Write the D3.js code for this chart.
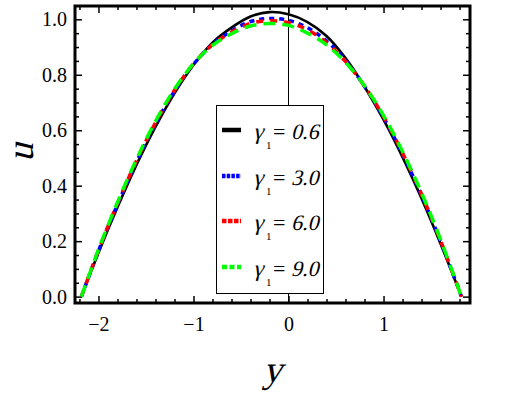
<!DOCTYPE html>
<html>
<head>
<meta charset="utf-8">
<script src="https://cdn.jsdelivr.net/npm/d3@7"></script>
<style>
  html, body { margin: 0; padding: 0; background: #fff; }
  svg { display: block; }
</style>
</head>
<body>
<svg id="chart" width="525" height="398"></svg>
<script>
  // values (u against y)
  var yPts = [-2.18, -2.0, -1.8, -1.6, -1.4, -1.2, -1.0, -0.8, -0.6, -0.4, -0.2, 0.0, 0.2, 0.4, 0.6, 0.8, 1.0, 1.2, 1.4, 1.6, 1.82];
  var uG06 = [0, 0.158, 0.322, 0.475, 0.612, 0.733, 0.835, 0.916, 0.970, 1.010, 1.026, 1.018, 0.990, 0.940, 0.860, 0.757, 0.638, 0.503, 0.354, 0.191, 0];
  var uG30 = [0, 0.165, 0.332, 0.486, 0.623, 0.741, 0.838, 0.910, 0.958, 0.992, 1.003, 0.996, 0.970, 0.922, 0.852, 0.758, 0.646, 0.514, 0.365, 0.199, 0];
  var uG60 = [0, 0.167, 0.336, 0.490, 0.627, 0.744, 0.839, 0.909, 0.954, 0.985, 0.995, 0.988, 0.962, 0.916, 0.848, 0.759, 0.649, 0.518, 0.369, 0.202, 0];
  var uG90 = [0, 0.170, 0.340, 0.495, 0.632, 0.748, 0.840, 0.906, 0.948, 0.976, 0.985, 0.978, 0.950, 0.908, 0.845, 0.760, 0.653, 0.523, 0.374, 0.206, 0];
  var legendVals = ['0.6', '3.0', '6.0', '9.0'];
  var xTicks = [-2, -1, 0, 1];
  var yTicks = [0, 0.2, 0.4, 0.6, 0.8, 1.0];

  var FONT = 'Liberation Serif';
  var SKEW = 'skewX(-14)'; // serif italic face is missing, slant the upright one
  var svg = d3.select('#chart');
  var mLeft = 75, mRight = 470, mTop = 6, mBottom = 303;

  var xs = d3.scaleLinear().domain([-2.247, 1.91]).range([mLeft, mRight]);
  var ys = d3.scaleLinear().domain([-0.023, 1.048]).range([mBottom, mTop]);

  var minorX = d3.range(-2.2, 1.91, 0.2).map(function (v) { return Math.round(v * 10) / 10; })
    .filter(function (v) { return xTicks.indexOf(v) < 0; });
  var minorY = d3.range(0, 1.05, 0.05).map(function (v) { return Math.round(v * 100) / 100; })
    .filter(function (v) { return yTicks.indexOf(v) < 0; });

  function fmt(v) { return v.toFixed(1); }
  function fmtX(v) { return v < 0 ? '\u2212' + Math.abs(v) : String(v); }

  // axes (ticks point inside the frame)
  var gb = svg.append('g').attr('transform', 'translate(0,' + mBottom + ')');
  gb.call(d3.axisBottom(xs).tickValues(xTicks).tickSize(-7).tickPadding(14).tickFormat(fmtX));
  gb.append('g').call(d3.axisBottom(xs).tickValues(minorX).tickSize(-4).tickFormat(''));
  var gt = svg.append('g').attr('transform', 'translate(0,' + mTop + ')');
  gt.call(d3.axisTop(xs).tickValues(xTicks).tickSize(-7).tickFormat(''));
  gt.append('g').call(d3.axisTop(xs).tickValues(minorX).tickSize(-4).tickFormat(''));
  var gl = svg.append('g').attr('transform', 'translate(' + mLeft + ',0)');
  gl.call(d3.axisLeft(ys).tickValues(yTicks).tickSize(-7).tickPadding(8).tickFormat(fmt));
  gl.append('g').call(d3.axisLeft(ys).tickValues(minorY).tickSize(-4).tickFormat(''));
  var gr = svg.append('g').attr('transform', 'translate(' + mRight + ',0)');
  gr.call(d3.axisRight(ys).tickValues(yTicks).tickSize(-7).tickFormat(''));
  gr.append('g').call(d3.axisRight(ys).tickValues(minorY).tickSize(-4).tickFormat(''));

  svg.selectAll('.domain').remove();
  svg.selectAll('.tick line').attr('stroke', '#000').attr('stroke-width', 1.5);
  svg.selectAll('.tick text')
    .style('font-family', FONT)
    .style('font-size', '20px')
    .attr('fill', '#000');

  // vertical axis line at y = 0
  svg.append('line')
    .attr('x1', xs(0)).attr('x2', xs(0))
    .attr('y1', mTop).attr('y2', mBottom)
    .attr('stroke', '#000').attr('stroke-width', 1);

  var series = [
    { vals: uG06, color: '#000000', width: 2.6, dash: null, legDash: null },
    { vals: uG30, color: '#0000ff', width: 3.5, dash: '5,5', legDash: '3.5,1.2' },
    { vals: uG60, color: '#ff0000', width: 3.5, dash: '7,7', legDash: '4.5,1.5' },
    { vals: uG90, color: '#00ff00', width: 3.5, dash: '12,7', legDash: '5,2.5' }
  ];

  var line = d3.line()
    .x(function (d) { return xs(d[0]); })
    .y(function (d) { return ys(d[1]); })
    .curve(d3.curveCatmullRom);

  series.forEach(function (s) {
    svg.append('path')
      .datum(yPts.map(function (v, i) { return [v, s.vals[i]]; }))
      .attr('fill', 'none')
      .attr('stroke', s.color)
      .attr('stroke-width', s.width)
      .attr('stroke-dasharray', s.dash)
      .attr('d', line);
  });

  // frame
  svg.append('rect')
    .attr('x', mLeft).attr('y', mTop)
    .attr('width', mRight - mLeft).attr('height', mBottom - mTop)
    .attr('fill', 'none').attr('stroke', '#000').attr('stroke-width', 3);

  function slanted(parent, tx, ty, size, str, extra) {
    return parent.append('text')
      .attr('transform', 'translate(' + tx + ',' + ty + ')' + (extra || '') + ' ' + SKEW)
      .style('font-family', FONT)
      .style('font-size', size + 'px')
      .attr('fill', '#000')
      .text(str);
  }

  // legend
  var lg = svg.append('g');
  lg.append('rect')
    .attr('x', 216.5).attr('y', 105.5).attr('width', 107).attr('height', 188)
    .attr('fill', '#fff').attr('stroke', '#000').attr('stroke-width', 1);
  var rowY = [130, 176, 221, 267];
  series.forEach(function (s, i) {
    var cy = rowY[i];
    lg.append('line')
      .attr('x1', 222).attr('x2', 241)
      .attr('y1', cy).attr('y2', cy)
      .attr('stroke', s.color)
      .attr('stroke-width', 4.5)
      .attr('stroke-dasharray', s.legDash);
    slanted(lg, 253, cy + 9, 23, '\u03b3');
    lg.append('text')
      .attr('x', 266).attr('y', cy + 19)
      .style('font-family', FONT).style('font-size', '11px')
      .text('1');
    lg.append('text')
      .attr('x', 273).attr('y', cy + 9)
      .style('font-family', FONT).style('font-size', '22px')
      .text('=');
    slanted(lg, 291, cy + 9, 22, legendVals[i]);
  });

  // axis titles
  slanted(svg, 33, 162, 38, 'u', ' rotate(-90)');
  slanted(svg, 263, 382, 38, 'y');
</script>
</body>
</html>
